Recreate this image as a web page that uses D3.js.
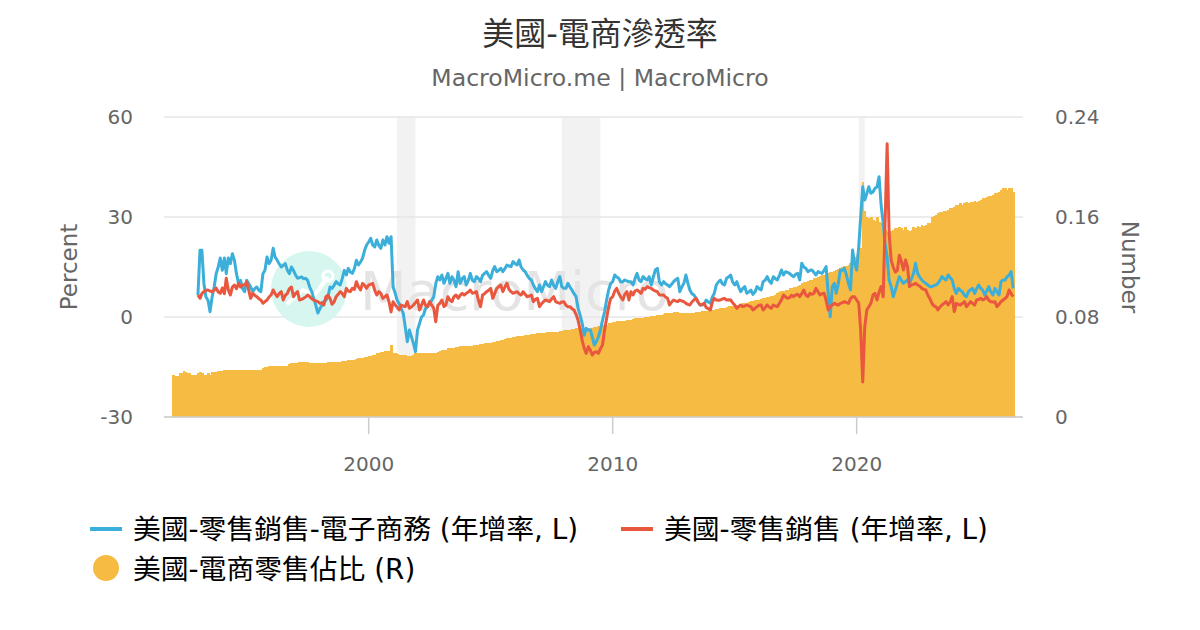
<!DOCTYPE html>
<html><head><meta charset="utf-8">
<script src="https://cdn.jsdelivr.net/npm/d3@7"></script>
<style>body{margin:0;background:#fff} svg{display:block}</style>
</head><body><svg id="c" width="1200" height="630"></svg>
<script>
const titleText = "美國-電商滲透率";
const subtitleText = "MacroMicro.me | MacroMicro";
const seriesNames = ["美國-零售銷售-電子商務 (年增率, L)", "美國-零售銷售 (年增率, L)", "美國-電商零售佔比 (R)"];
const seriesColors = ["#3BAFDA", "#E9573F", "#F6BB42"];
const leftTitle = "Percent", rightTitle = "Number";

// monthly, first month of each series
const barStart = "1992-01";
const lineStart = "1993-01";

// 美國-電商零售佔比 (R), monthly from 1992-01
const shareR = [
0.034,0.033,0.033,0.035,0.035,0.037,0.036,0.035,0.035,0.034,0.034,0.034,
0.035,0.036,0.035,0.034,0.034,0.035,0.034,0.036,0.036,0.036,0.037,0.037,
0.037,0.0375,0.0375,0.0375,0.038,0.0375,0.0375,0.0375,0.0378,0.0378,0.0378,0.0378,
0.0378,0.0378,0.0378,0.0378,0.0378,0.038,0.038,0.038,0.0395,0.040,0.040,0.0405,
0.041,0.041,0.041,0.041,0.041,0.041,0.041,0.041,0.041,0.0425,0.0435,0.0435,
0.0435,0.0435,0.0438,0.0438,0.044,0.044,0.0438,0.0435,0.043,0.043,0.0432,0.0435,
0.043,0.043,0.0432,0.0435,0.044,0.0443,0.0443,0.0443,0.0443,0.0443,0.0443,0.0445,
0.0448,0.0452,0.0456,0.0456,0.0456,0.0456,0.0465,0.047,0.047,0.0475,0.048,0.048,
0.0485,0.049,0.0496,0.050,0.051,0.051,0.052,0.052,0.0525,0.053,0.053,0.058,
0.051,0.051,0.0505,0.050,0.050,0.0496,0.0496,0.049,0.049,0.049,0.0495,0.051,
0.051,0.051,0.051,0.0512,0.0512,0.0512,0.0515,0.0515,0.0515,0.0515,0.052,0.0525,
0.0536,0.0536,0.054,0.055,0.055,0.0552,0.0555,0.0558,0.056,0.0565,0.0568,0.0568,
0.0565,0.0568,0.057,0.0572,0.0576,0.0578,0.058,0.0584,0.0588,0.059,0.059,0.0592,
0.0595,0.060,0.060,0.0605,0.061,0.0616,0.062,0.0625,0.063,0.0632,0.0636,0.064,
0.0644,0.0648,0.0648,0.065,0.0652,0.0656,0.066,0.066,0.0664,0.0664,0.0668,0.067,
0.067,0.0672,0.0675,0.0676,0.0678,0.068,0.068,0.068,0.068,0.068,0.069,0.069,
0.0696,0.0696,0.0696,0.070,0.0704,0.0708,0.071,0.071,0.071,0.0712,0.071,0.070,
0.0705,0.071,0.0715,0.072,0.072,0.0725,0.073,0.0736,0.0736,0.074,0.075,0.0756,
0.076,0.076,0.0765,0.0768,0.077,0.077,0.0772,0.0776,0.0776,0.078,0.0785,0.079,
0.079,0.0792,0.0795,0.0795,0.080,0.080,0.080,0.0805,0.081,0.081,0.0815,0.082,
0.082,0.0825,0.083,0.083,0.0835,0.0835,0.084,0.084,0.084,0.0835,0.083,0.083,
0.083,0.083,0.0832,0.0835,0.0835,0.084,0.084,0.084,0.0845,0.085,0.085,0.085,
0.0855,0.086,0.086,0.0864,0.0866,0.087,0.087,0.0875,0.088,0.0885,0.089,0.089,
0.0895,0.090,0.090,0.0905,0.091,0.091,0.0915,0.092,0.0925,0.093,0.0935,0.0936,
0.094,0.0945,0.095,0.0955,0.096,0.096,0.0965,0.097,0.098,0.099,0.100,0.1008,
0.101,0.1015,0.102,0.103,0.1035,0.104,0.104,0.105,0.106,0.107,0.108,0.108,
0.109,0.1096,0.110,0.111,0.1115,0.112,0.113,0.1135,0.114,0.115,0.1155,0.116,
0.116,0.117,0.118,0.1185,0.119,0.120,0.1205,0.121,0.122,0.123,0.125,0.128,
0.130,0.132,0.135,0.188,0.165,0.160,0.159,0.160,0.158,0.157,0.160,0.156,
0.155,0.152,0.150,0.148,0.148,0.149,0.150,0.151,0.151,0.152,0.151,0.150,
0.152,0.150,0.149,0.150,0.152,0.151,0.153,0.152,0.154,0.153,0.154,0.155,
0.155,0.160,0.161,0.162,0.163,0.164,0.164,0.165,0.165,0.166,0.167,0.167,
0.168,0.170,0.170,0.171,0.170,0.171,0.172,0.171,0.172,0.172,0.173,0.172,
0.173,0.174,0.175,0.175,0.176,0.177,0.177,0.178,0.179,0.179,0.180,0.182,
0.183,0.183,0.182,0.183,0.183,0.180
];

// 美國-零售銷售-電子商務 (年增率, L), monthly from 1993-01
const ecomYoY = [
6.6,20,20,10,6,5,1.6,6,9,13,15,17.7,
14,17.7,13,17.7,16,19,17,13,10,11,8.5,7.6,
11,10,9,7.6,8.5,9,8,7.6,13,14,18,16,
17,20.6,18,17,16,15,15.5,16,14,13,15,14,
12.6,11.6,11.8,12,11.5,11.6,11,9,7.6,5.5,3.5,1.2,
2.5,3.6,4.6,5,6,9,8.6,9.5,10.6,10,9.6,11.5,
14,12.6,14.6,13.5,13.1,14.5,17,15.6,16.5,17.6,20,21.6,
22.5,23.6,21.6,21,23.1,21.5,20.6,23.1,21.6,24.1,22.1,24.1,
9,7.1,5.1,4,2.6,1.1,-2.9,-7.4,-3.9,-5.9,-7.9,-10.4,
-3.9,-1.9,0,0.6,2.5,3.1,4.1,5,6.1,10,12.1,11.1,
12.6,10.1,11.5,13.1,10.1,12.1,11,9.1,13.6,10.1,11.5,12.1,
9.6,11,13.1,11,10.6,12.1,11.5,10.6,12.5,13.1,13.6,12.5,
11.6,14,15.1,13.6,14,14.6,13.6,14.5,15.6,15.3,15.1,16.6,
16,15.6,17.1,15,14.1,13.6,12.5,11.6,11.1,9.6,8.5,7.6,
9.6,7.6,9,10.6,9.5,9.1,11.1,9.5,8.6,10.5,12.1,9.1,
8.6,8.6,10.1,9,8.1,7,6.1,2.6,0.5,-1.9,-5.5,-3.4,
-3.9,-3.9,-6,-8.4,-7.4,-6,-3.9,-1,1.5,5,8.1,10,
10.6,12.6,12,11.6,10.5,10.6,11.1,10.8,10.6,10.6,9.6,11.5,
13.1,11,10.6,12.1,11.5,11.1,12.1,9.6,12,14.1,14.6,10.5,
9.6,10.6,10,9.6,9.1,9.8,10.6,11.2,11.6,7.6,9,10.1,
12.6,10,8.1,7,6.6,5.6,4.5,3.6,3.6,3.8,5.1,4.5,
4.1,6,7.1,9.6,10.5,11.1,10,9.6,11.6,12,12.6,10.5,
9.6,10.6,9,7.6,8.5,9.1,7.1,7.5,8.1,6.8,7.5,9.1,
8.5,8.1,10.6,11,12.1,10.8,10.1,12.1,11.5,11.1,12.5,14.1,
12.6,13.6,13.4,13.1,12.5,12.1,12.8,13.1,11.1,16.1,15,14.6,
13.6,14,14.1,13.4,12.6,13.6,13.3,13.1,14,15.1,7.1,0.1,
9.1,10.1,7.1,10,14.1,14,14.6,12.6,10,8.1,20.1,16.1,
14.1,21.1,30,39.1,35.1,37,39.1,37.1,37.5,38.6,39,42.1,
33.6,28.1,22,18.1,11,9.1,6.1,8,10.1,12.1,11,10.1,
10.6,11.1,10.1,11.5,13.1,16.1,13.1,12,11.1,10.5,10.1,9.6,
9.1,9.1,9.4,9.6,10.1,11,12.1,11.5,11.1,12.6,11.8,11.1,
8.5,7.1,8.6,8,7.6,6.5,6.1,7.6,8.2,8.6,7.1,8.5,
9.6,8.6,8.1,6.6,7.8,9.1,7.5,6.6,8.6,7.5,6.6,10.6,
11.1,11.1,12.1,12.5,13.6,8.6
];

// 美國-零售銷售 (年增率, L), monthly from 1993-01
const retailYoY = [
6.6,5.6,7,7.6,8,8.1,7.8,7.6,8,8.7,7.5,7.1,
8.7,7,11.6,8.1,6.6,9,9.6,8.5,10.1,9,9.6,9.6,
10.6,8,5.6,7.1,6.5,6.1,5.5,5.1,4.1,4.6,5.1,6,
6.6,8.1,7,6.1,7,7.6,5.1,6.5,7.1,8.5,9,6.1,
7,7.6,5.1,5.3,5.6,6,6.6,6.1,5.5,5.1,4.8,4.6,
4.1,4.3,3.6,6.1,6.5,5.6,3.8,4.5,6.1,6.8,7.6,7,
6.1,8.6,7.8,7.6,8.6,8.3,10.6,9,8.1,10.1,9.5,8.6,
9.6,9.8,10.1,8,6.6,7.6,7.1,5.6,6.1,6.6,4.5,1.5,
4.6,3.6,3,2.1,3.6,3.3,3.1,4.6,2.6,3,3.6,4.3,
5.1,2.1,3.5,5.1,3.5,3.1,4.6,3.6,2.6,-1.4,3.5,4.1,
5.1,3.1,3.6,6.1,5,4.6,6.1,6.6,5.6,6.5,7.1,6.6,
7.1,7.5,8.1,7.1,7.3,7.6,5,3.1,6.6,7,7.6,8,
8.6,5.6,7,8.6,9.1,9.6,7.6,9,10.1,8.3,7.6,7.1,
7.4,7.6,7,6.6,7.6,6.8,6.1,6.3,6.6,4.6,5.3,5.6,
3.1,4,4.6,5.1,4.9,4.6,5.4,6.1,4.6,4.3,4.1,4.5,
4.6,3.5,3.1,3.1,2.5,2.1,0.8,-1,-3.9,-7,-9.4,-10.9,
-8.9,-10,-11.4,-10.6,-10.4,-10.9,-9.5,-8.4,-4,-0.5,3.1,5.5,
6.1,7.8,8.6,7.1,6,5.1,6.8,7.6,5.1,7.6,6.6,7.8,
8.1,7.6,7.1,8.6,8.3,9.1,8.8,8.6,8.1,7.8,7.6,6.6,
6.6,6.6,6,5.6,3.6,4.5,5.1,4.8,4.6,5.1,4.8,4.6,
4.1,3.8,3.6,4.5,5.1,5.6,4.5,3.6,3.8,4.1,2.8,2.5,
2.1,4.5,5.6,5.1,5,5.1,5.4,5.6,5.1,5.2,5.1,4.3,
3.6,2.6,3.1,3.6,3.1,3.3,3.6,3.3,3.1,2.1,2.6,3.1,
3.5,3.6,2.1,2.8,3.6,3,2.6,3.6,3.3,3.1,4.1,5.1,
6.6,6,5.6,5.8,6.5,6.1,6.6,6.8,6.1,7,8.1,6.6,
6.1,7.1,6.8,7.1,8.6,7.6,6.6,7,7.1,5,2.1,3.1,
3.6,4.1,3.8,3.6,4.1,4.3,4.6,4.3,4.1,5.5,6.1,6.1,
5.1,4.1,-3.9,-19.5,-3,2.1,3.1,4.1,6.6,7.1,5.1,7.5,
9.1,6.1,28,52,25,17,15,13.5,14,18.5,16.6,14.1,
17.1,15,9.1,9.6,9.8,10.1,9.6,9.3,8.6,8.3,8.1,6.6,
5.5,4.1,3.3,3.1,2.1,3,3.6,4.1,4.6,3.6,4.5,6.1,
1.6,4.1,3.8,3.6,4.1,4.6,3.1,3.8,4.6,4.1,3.6,5.1,
5.3,5.6,5.1,5.4,6.1,5,4.6,4.5,4.6,3.1,3.8,4.6,
5.1,5.6,6.1,8.1,7,6.1
];

const xTickYears = ["2000", "2010", "2020"];
const leftTicks = [-30, 0, 30, 60];
const rightTicks = [0, 0.08, 0.16, 0.24];
const recessions = [["2001-03", "2001-12"], ["2007-12", "2009-07"], ["2020-02", "2020-05"]];

// ---------------- drawing ----------------
const FONT = '"DejaVu Sans","Noto Sans CJK TC",sans-serif';
const svg = d3.select("#c");
const pm = d3.utcParse("%Y-%m");
const py = d3.utcParse("%Y");
const L = 164, R = 1023, T = 117, B = 417;

const x = d3.scaleUtc().domain([new Date(Date.UTC(1991, 7, 12)), new Date(Date.UTC(2026, 9, 26))]).range([L, R]);
const yL = d3.scaleLinear().domain([-30, 60]).range([B, T]);
const yR = d3.scaleLinear().domain([0, 0.24]).range([B, T]);

const barData = shareR.map((v, i) => ({ d: d3.utcMonth.offset(pm(barStart), i), v }));
const ecomData = ecomYoY.map((v, i) => ({ d: d3.utcMonth.offset(pm(lineStart), i), v }));
const retailData = retailYoY.map((v, i) => ({ d: d3.utcMonth.offset(pm(lineStart), i), v }));

svg.append("rect").attr("width", 1200).attr("height", 630).attr("fill", "#fff");

// title
svg.append("text").attr("x", 600).attr("y", 45).attr("text-anchor", "middle")
  .attr("font-family", FONT).attr("font-size", 32).attr("fill", "#333").text(titleText);
svg.append("text").attr("x", 600).attr("y", 86).attr("text-anchor", "middle")
  .attr("font-family", FONT).attr("font-size", 23.6).attr("fill", "#666").text(subtitleText);

// recession bands
svg.append("g").selectAll("rect").data(recessions).join("rect")
  .attr("x", d => x(pm(d[0]))).attr("width", d => x(pm(d[1])) - x(pm(d[0])))
  .attr("y", T).attr("height", B - T).attr("fill", "#f2f2f2");

// grid
svg.append("g").selectAll("line").data(leftTicks).join("line")
  .attr("x1", L).attr("x2", R).attr("y1", d => yL(d)).attr("y2", d => yL(d))
  .attr("stroke", "#e6e6e6").attr("stroke-width", 1.5);

// watermark
const wm = svg.append("g");
wm.append("circle").attr("cx", 309).attr("cy", 289).attr("r", 38).attr("fill", "#d6f6ef");
wm.append("polyline").attr("points", "288,303 303,290 314,296 327,278").attr("fill", "none")
  .attr("stroke", "#fff").attr("stroke-width", 4).attr("stroke-linejoin", "round").attr("stroke-linecap", "round");
wm.append("circle").attr("cx", 328).attr("cy", 276).attr("r", 5).attr("fill", "none").attr("stroke", "#fff").attr("stroke-width", 3);
wm.append("text").attr("x", 360).attr("y", 310).attr("font-family", FONT).attr("font-size", 54)
  .attr("fill", "#e4e4e4").text("MacroMicro");

// bars
svg.append("g").attr("shape-rendering", "crispEdges").selectAll("rect").data(barData).join("rect")
  .attr("x", d => { const a = x(d.d), b = x(d3.utcMonth.offset(d.d, 1)); return a - (b - a) / 2; })
  .attr("width", d => x(d3.utcMonth.offset(d.d, 1)) - x(d.d) + 0.6)
  .attr("y", d => yR(d.v)).attr("height", d => yR(0) - yR(d.v))
  .attr("fill", seriesColors[2]);

// lines
const line = d3.line().x(d => x(d.d)).y(d => yL(d.v));
svg.append("path").datum(ecomData).attr("d", line).attr("fill", "none")
  .attr("stroke", seriesColors[0]).attr("stroke-width", 3).attr("stroke-linejoin", "round");
svg.append("path").datum(retailData).attr("d", line).attr("fill", "none")
  .attr("stroke", seriesColors[1]).attr("stroke-width", 3).attr("stroke-linejoin", "round");

// x axis
svg.append("line").attr("x1", L).attr("x2", R).attr("y1", B).attr("y2", B).attr("stroke", "#ccc").attr("stroke-width", 1.5);
const xt = svg.append("g").selectAll("g").data(xTickYears).join("g");
xt.append("line").attr("x1", d => x(py(d))).attr("x2", d => x(py(d))).attr("y1", B).attr("y2", B + 17)
  .attr("stroke", "#ccc").attr("stroke-width", 1.5);
xt.append("text").attr("x", d => x(py(d))).attr("y", 471).attr("text-anchor", "middle")
  .attr("font-family", FONT).attr("font-size", 20).attr("fill", "#666").text(d => d);

// y axes labels
svg.append("g").selectAll("text").data(leftTicks).join("text")
  .attr("x", 133).attr("y", d => yL(d) + 7).attr("text-anchor", "end")
  .attr("font-family", FONT).attr("font-size", 20).attr("fill", "#666").text(d => d);
svg.append("g").selectAll("text").data(rightTicks).join("text")
  .attr("x", 1055).attr("y", d => yR(d) + 7).attr("text-anchor", "start")
  .attr("font-family", FONT).attr("font-size", 20).attr("fill", "#666").text(d => d === 0 ? "0" : d.toFixed(2));

svg.append("text").attr("transform", "translate(77,267) rotate(-90)").attr("text-anchor", "middle")
  .attr("font-family", FONT).attr("font-size", 23).attr("fill", "#666").text(leftTitle);
svg.append("text").attr("transform", "translate(1122,267) rotate(90)").attr("text-anchor", "middle")
  .attr("font-family", FONT).attr("font-size", 23).attr("fill", "#666").text(rightTitle);

// legend
const lg = svg.append("g").attr("font-family", FONT).attr("font-size", 27.8).attr("fill", "#000");
lg.append("line").attr("x1", 90).attr("x2", 122).attr("y1", 529).attr("y2", 529).attr("stroke", seriesColors[0]).attr("stroke-width", 4);
lg.append("text").attr("x", 133).attr("y", 539).text(seriesNames[0]);
lg.append("line").attr("x1", 621).attr("x2", 653).attr("y1", 529).attr("y2", 529).attr("stroke", seriesColors[1]).attr("stroke-width", 4);
lg.append("text").attr("x", 664).attr("y", 539).text(seriesNames[1]);
lg.append("circle").attr("cx", 106).attr("cy", 568).attr("r", 13).attr("fill", seriesColors[2]);
lg.append("text").attr("x", 133).attr("y", 579).text(seriesNames[2]);
</script></body></html>
